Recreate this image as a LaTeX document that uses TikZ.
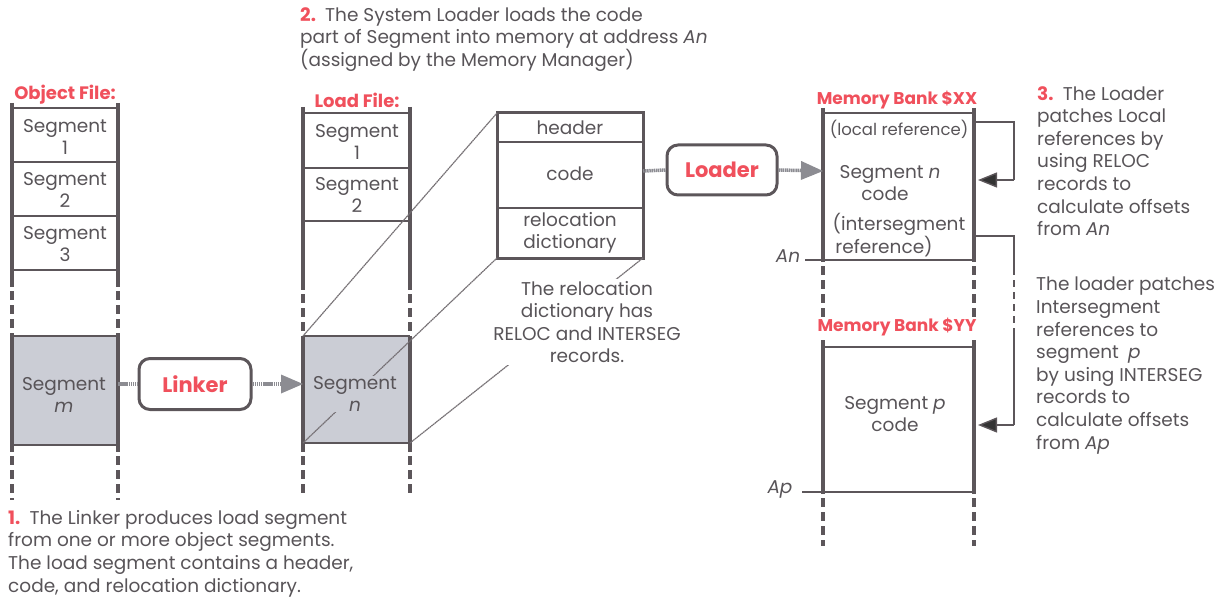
\documentclass[tikz,border=0pt]{standalone}
\usepackage{fontspec}
\setmainfont{Poppins}
\usetikzlibrary{arrows.meta}
\definecolor{txt}{RGB}{88,84,88}
\definecolor{redt}{RGB}{240,80,92}
\definecolor{lc}{RGB}{92,86,90}
\definecolor{shadecol}{RGB}{203,205,213}
\definecolor{agray}{RGB}{140,140,146}
\begin{document}
\begin{tikzpicture}[x=1pt,y=-1pt,
  every node/.style={text=txt,inner sep=0pt},
  body/.style={font=\fontsize{18.5}{22.6}\selectfont},
  lbl/.style={body,align=center},
  ttl/.style={font=\fontsize{18}{20}\selectfont\bfseries,text=redt},
  mttl/.style={font=\fontsize{17}{20}\selectfont\bfseries,text=redt},
  colline/.style={draw=lc,line width=3.5pt},
  coldash/.style={draw=lc,line width=3.5pt,dash pattern=on 9pt off 5pt},
  hline/.style={draw=lc,line width=2pt},
  proc/.style={draw=lc,line width=3pt,rounded corners=11pt,fill=white,font=\fontsize{21}{24}\selectfont\bfseries,text=redt},
  rope/.style={draw=agray,line width=3.5pt,dash pattern=on 1.5pt off 0.6pt},
  bigarrow/.style={rope,-{Triangle[length=22pt,width=19pt,fill=agray,line width=0pt]}},
  persp/.style={draw=lc!85,line width=1.2pt,dash pattern=on 1.6pt off 0.5pt},
  bracket/.style={draw=lc,line width=1.4pt},
  patch/.style={bracket,-{Triangle[length=19pt,width=15pt,fill=black!80]}}
]
\useasboundingbox (0,0) rectangle (1219,599);

% ---------- Object file ----------
\node[ttl] (objt) at (65,95) {Object File:};
\fill[shadecol] (12,336) rectangle (118,445);
\foreach \x in {12,118}{
  \draw[colline] (\x,103) -- (\x,287);
  \draw[coldash] (\x,291) -- (\x,333);
  \draw[colline] (\x,333) -- (\x,452);
  \draw[coldash] (\x,456) -- (\x,500);
}
\foreach \y in {108,162,216,270,336,445} \draw[hline] (12,\y) -- (118,\y);
\node[lbl] (o1) at (65,137) {Segment\\1};
\node[lbl] (o2) at (65,190) {Segment\\2};
\node[lbl] (o3) at (65,244) {Segment\\3};
\node[lbl] (om) at (64,395) {Segment\\\itshape m};
\coordinate (omr) at (118,384);

% ---------- Linker ----------
\node[proc,minimum width=112pt,minimum height=51pt] (linker) at (195,384) {Linker};

% ---------- Load file ----------
\node[ttl] (loadt) at (357,100) {Load File:};
\fill[shadecol] (303,336) rectangle (410,443);
\foreach \x in {303,410}{
  \draw[colline] (\x,107) -- (\x,290);
  \draw[coldash] (\x,294) -- (\x,336);
  \draw[colline] (\x,336) -- (\x,452);
  \draw[coldash] (\x,456) -- (\x,497);
}
\foreach \y in {113,168,221,336,443} \draw[hline] (303,\y) -- (410,\y);
\node[lbl] (l1) at (357,142) {Segment\\1};
\node[lbl] (l2) at (357,195) {Segment\\2};
\coordinate (lnl) at (303,384);
\coordinate (sntl) at (303,336);
\coordinate (snbl) at (303,443);
\coordinate (snbr) at (410,443);

% ---------- expanded segment ----------
\draw[hline] (497,142) -- (643,142);
\draw[hline] (497,208) -- (643,208);
\draw[draw=lc,line width=3pt] (497,113) rectangle (643,258);
\coordinate (htl) at (497,113);
\coordinate (hbl) at (497,258);
\coordinate (hbr) at (643,258);
\node[lbl] (hdr) at (570,128) {header};
\node[lbl] (hcode) at (570,174) {code};
\node[lbl] (hrel) at (570,233) {relocation\\dictionary};
\coordinate (hcr) at (643,171);

% perspective lines
\draw[persp] (sntl) -- (htl);
\draw[persp] (snbl) -- (hbl);
\draw[persp] (snbr) -- (hbr);
\node[lbl,fill=shadecol,inner sep=0pt] (ln) at (355,394) {Segment\\\itshape n};
\node[lbl,fill=white,inner sep=2pt] (reltxt) at (587,322) {The relocation\\dictionary has\\RELOC and INTERSEG\\records.};

% ---------- Loader ----------
\node[proc,minimum width=110pt,minimum height=50pt] (loader) at (722,170) {Loader};

% ---------- Memory bank XX ----------
\node[mttl] (mxt) at (897,100) {Memory Bank \$XX};
\foreach \x in {823,974}{
  \draw[colline] (\x,108) -- (\x,262);
  \draw[coldash] (\x,266) -- (\x,318);
}
\draw[hline] (823,113) -- (974,113);
\draw[hline] (805,260) -- (974,260);
\node[font=\fontsize{18.5}{22.5}\selectfont\itshape] (an) at (788,256) {An};
\node[font=\fontsize{16.5}{20}\selectfont] (locref) at (899,129) {(local reference)};
\node[lbl] (segn) at (890,183) {Segment \textit{n}\\\hspace*{-10pt}code};
\node[lbl] (interref) at (899,235) {(intersegment\\\hspace*{-30pt}reference)};
\coordinate (mxl) at (823,171);
\coordinate (mx1) at (974,122);
\coordinate (mx2) at (974,236);
\coordinate (mxa) at (978,180);

% ---------- Memory bank YY ----------
\node[mttl] (myt) at (897,327) {Memory Bank \$YY};
\foreach \x in {823,974}{
  \draw[colline] (\x,340) -- (\x,494);
  \draw[coldash] (\x,498) -- (\x,546);
}
\draw[hline] (823,347) -- (974,347);
\draw[hline] (802,492) -- (974,492);
\node[font=\fontsize{18.5}{22.5}\selectfont\itshape] (ap) at (780,489) {Ap};
\node[lbl] (segp) at (895,414) {Segment \textit{p}\\code};
\coordinate (mya) at (978,425);

% ---------- connectors ----------
\draw[rope] (omr) -- (linker.west);
\draw[bigarrow] (linker.east) -- (lnl);
\draw[rope] (hcr) -- (loader.west);
\draw[bigarrow] (loader.east) -- (mxl);

\coordinate (b1) at (1014,122);
\coordinate (b2) at (1014,180);
\draw[bracket] (mx1) -- (b1) -- (b2);
\draw[patch] (b2) -- (mxa);
\coordinate (c1) at (1014,236);
\coordinate (c2) at (1014,268);
\coordinate (c3) at (1014,334);
\coordinate (c4) at (1014,425);
\draw[bracket] (mx2) -- (c1) -- (c2);
\draw[bracket,dash pattern=on 7pt off 5pt] (c2) -- (c3);
\draw[bracket] (c3) -- (c4);
\draw[patch] (c4) -- (mya);

% ---------- annotations ----------
\node[body,align=left,anchor=north west] (note2) at (300,7)
  {{\color{redt}\bfseries 2.}\enspace The System Loader loads the code\\part of Segment into memory at address \textit{An}\\(assigned by the Memory Manager)};
\node[body,align=left,anchor=north west] (note3) at (1037,86)
  {{\color{redt}\bfseries 3.}\enspace The Loader\\patches Local\\references by\\using RELOC\\records to\\calculate offsets\\from \textit{An}};
\node[body,align=left,anchor=north west] (note4) at (1036,277)
  {The loader patches\\Intersegment\\references to\\segment\enspace\textit{p}\\by using INTERSEG\\records to\\calculate offsets\\from \textit{Ap}};
\node[body,align=left,anchor=north west] (note1) at (8,510)
  {{\color{redt}\bfseries 1.}\enspace The Linker produces load segment\\from one or more object segments.\\The load segment contains a header,\\code, and relocation dictionary.};
\end{tikzpicture}
\end{document}
